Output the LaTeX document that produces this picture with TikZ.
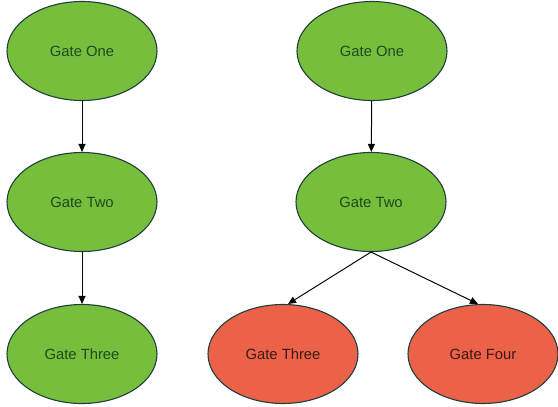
\documentclass[tikz,border=0pt]{standalone}
\usepackage{fontspec}
\setmainfont{Liberation Sans}
\usetikzlibrary{shapes.geometric,arrows.meta}
\definecolor{gfill}{HTML}{77BE3C}
\definecolor{rfill}{HTML}{EC6249}
\definecolor{edge}{HTML}{1F3F3F}
\definecolor{gtext}{HTML}{1E4A1E}
\definecolor{rtext}{HTML}{3A1A12}
\tikzset{
  gate/.style={ellipse, draw=edge, line width=1.1pt, minimum width=150pt, minimum height=99pt, inner sep=0pt, font=\fontsize{14.8}{17}\selectfont},
  ggate/.style={gate, fill=gfill, text=gtext},
  rgate/.style={gate, fill=rfill, text=rtext},
  conn/.style={draw=black!85!edge, line width=1pt, -{Triangle[length=8pt,width=7pt]}}
}
\begin{document}
\begin{tikzpicture}[x=1pt,y=-1pt]
\useasboundingbox (0,0) rectangle (558,407);
\node[ggate] (l1) at (82,51) {Gate One};
\node[ggate] (l2) at (82,202) {Gate Two};
\node[ggate] (l3) at (82,354) {Gate Three};
\node[ggate] (r1) at (372,51) {Gate One};
\node[ggate] (r2) at (371,202) {Gate Two};
\node[rgate] (r3) at (283,354) {Gate Three};
\node[rgate] (r4) at (483,354) {Gate Four};
\draw[conn] (l1) -- (l2);
\draw[conn] (l2) -- (l3);
\draw[conn] (r1) -- (r2);
\draw[conn] (r2.south) -- ([xshift=5pt]r3.north);
\draw[conn] (r2.south) -- ([xshift=-5pt]r4.north);
\end{tikzpicture}
\end{document}
